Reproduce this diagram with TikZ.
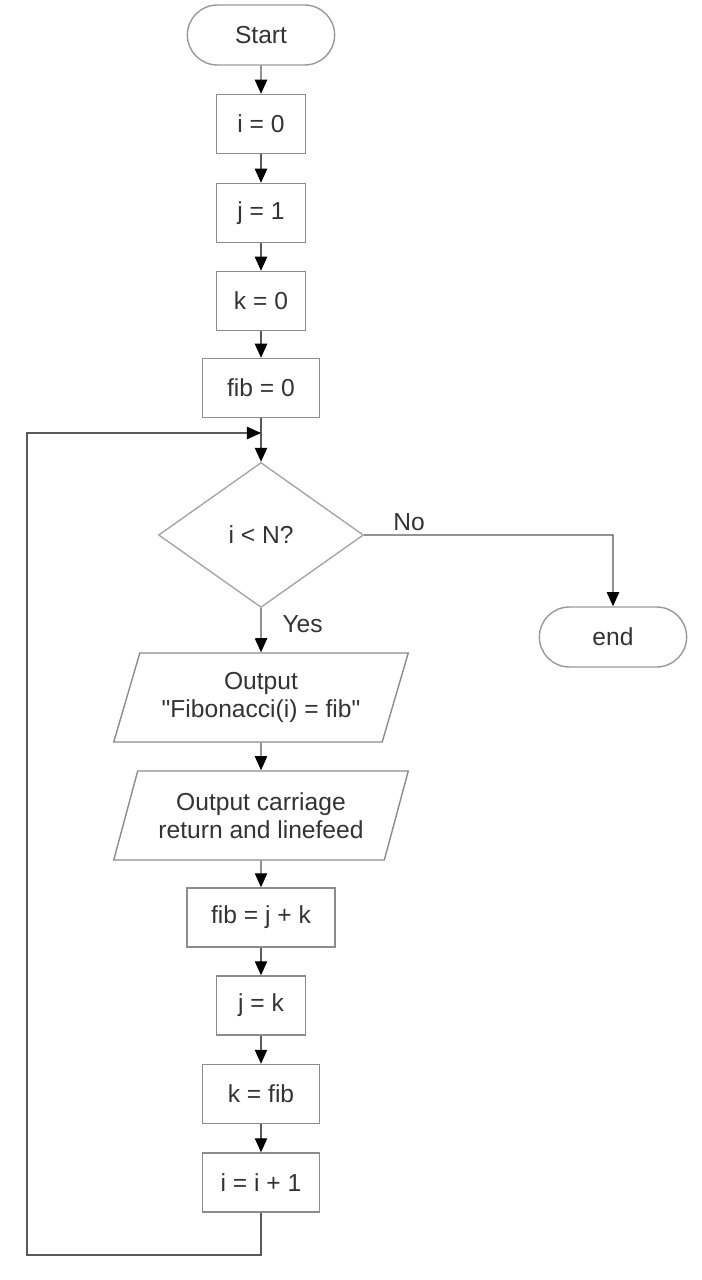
\documentclass[tikz,border=0pt]{standalone}
\usepackage{fontspec}
\setmainfont{Liberation Sans}
\usetikzlibrary{arrows.meta,shapes.geometric,shapes.misc}

\begin{document}
\begin{tikzpicture}[x=0.02cm, y=-0.02cm, >={Triangle[length=8pt,width=7pt,color=black]},
    font=\fontsize{14}{16}\selectfont, text=black!80,
    term/.style={rounded rectangle, draw=black!40, line width=0.8pt, minimum width=3.18cm, minimum height=1.2cm},
    proc/.style={rectangle, draw=black!45, line width=0.8pt, minimum height=1.18cm},
    decide/.style={diamond, draw=black!35, line width=0.8pt, minimum width=4.1cm, minimum height=2.9cm, inner sep=0pt},
    io/.style={trapezium, trapezium left angle=70, trapezium right angle=110, trapezium stretches=true,
        draw=black!45, line width=0.8pt, minimum width=5.9cm, minimum height=1.78cm, align=center},
    flow/.style={->, draw=black!65, line width=0.8pt}]
    \useasboundingbox (0,0) rectangle (702,1280);

    \node[term] (start) at (261,35) {Start};
    \node[proc, minimum width=1.78cm] (i0) at (261,124) {i = 0};
    \node[proc, minimum width=1.78cm] (j1) at (261,213) {j = 1};
    \node[proc, minimum width=1.78cm] (k0) at (261,301) {k = 0};
    \node[proc, minimum width=2.34cm] (fib0) at (261,388) {fib = 0};
    \node[decide] (test) at (261,535) {i < N?};
    \node[term] (end) at (613,637) {end};
    \node[io] (out1) at (261,697.5) {Output\\\textquotedbl Fibonacci(i) = fib\textquotedbl};
    \node[io] (out2) at (261,815.5) {Output carriage\\return and linefeed};
    \node[proc, minimum width=2.96cm] (fibjk) at (261,917.5) {fib = j + k};
    \node[proc, minimum width=1.78cm] (jk) at (261,1005.5) {j = k};
    \node[proc, minimum width=2.34cm] (kfib) at (261,1094) {k = fib};
    \node[proc, minimum width=2.34cm] (inc) at (261,1182.5) {i = i + 1};

    % 主干
    \draw[flow] (start) -- (i0);
    \draw[flow] (i0) -- (j1);
    \draw[flow] (j1) -- (k0);
    \draw[flow] (k0) -- (fib0);
    \draw[flow] (fib0) -- (test);
    \draw[flow] (test.south) -- node[pos=0.37, anchor=west, xshift=0.3cm] {Yes} (out1);
    \draw[flow] (out1) -- (out2);
    \draw[flow] (out2) -- (fibjk);
    \draw[flow] (fibjk) -- (jk);
    \draw[flow] (jk) -- (kfib);
    \draw[flow] (kfib) -- (inc);

    % 出口
    \coordinate (turn) at (613,535);
    \draw[flow] (test.east) -- node[pos=0.18, above, inner sep=2pt] {No} (turn) -- (end);

    % 回环
    \coordinate (b1) at (261,1255);
    \coordinate (b2) at (27,1255);
    \coordinate (b3) at (27,433);
    \coordinate (b4) at (261,433);
    \draw[flow] (inc) -- (b1) -- (b2) -- (b3) -- (b4);
\end{tikzpicture}
\end{document}
